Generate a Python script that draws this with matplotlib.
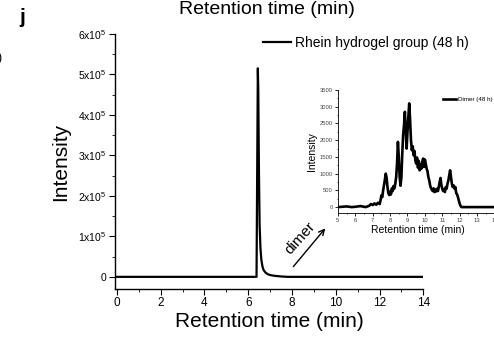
import numpy as np
import matplotlib
matplotlib.use("Agg")
import matplotlib.pyplot as plt
from matplotlib.ticker import MultipleLocator, FixedLocator

plt.rcParams["font.family"] = ["Liberation Sans", "DejaVu Sans"]
plt.rcParams["mathtext.fontset"] = "custom"
plt.rcParams["mathtext.rm"] = "Liberation Sans"

# ── data ──────────────────────────────────────────────────────────────────────
main_t = [0.0, 6.38, 6.41, 6.44, 6.46, 6.49, 6.52, 6.56, 6.60, 6.65, 6.70,
          6.80, 6.90, 7.00, 7.20, 7.50, 7.80, 14.0]
main_i = [0, 0, 2.6e5, 5.15e5, 4.6e5, 2.6e5, 1.3e5, 7.0e4, 4.2e4, 2.6e4, 1.7e4,
          1.0e4, 6.5e3, 4.5e3, 2.5e3, 1.0e3, 0, 0]

dimer_t = [5.0, 5.5, 5.8, 6.0, 6.3, 6.6, 6.8, 6.9, 7.0, 7.1, 7.2, 7.3, 7.4, 7.45,
           7.5, 7.55, 7.6, 7.65, 7.7, 7.75, 7.8, 7.85, 7.9, 7.95, 8.0, 8.05, 8.1,
           8.15, 8.2, 8.25, 8.3, 8.35, 8.4, 8.45, 8.5, 8.55, 8.6, 8.65, 8.7, 8.75,
           8.8, 8.85, 8.9, 8.95, 9.0, 9.05, 9.1, 9.15, 9.2, 9.25, 9.3, 9.35, 9.4,
           9.45, 9.5, 9.55, 9.6, 9.65, 9.7, 9.75, 9.8, 9.85, 9.9, 9.95, 10.0,
           10.05, 10.1, 10.15, 10.2, 10.25, 10.3, 10.35, 10.4, 10.45, 10.5, 10.55,
           10.6, 10.65, 10.7, 10.75, 10.8, 10.85, 10.9, 10.95, 11.0, 11.05, 11.1,
           11.15, 11.2, 11.25, 11.3, 11.35, 11.4, 11.45, 11.5, 11.55, 11.6, 11.65,
           11.7, 11.75, 11.8, 11.85, 11.9, 11.95, 12.0, 12.05, 12.1, 12.5, 13.0,
           14.0, 15.0]
dimer_i = [0, 20, 0, 10, 30, 0, 40, 90, 60, 110, 70, 130, 90, 200,
           350, 300, 500, 650, 820, 1000, 880, 600, 420, 360, 460, 380, 560,
           480, 630, 560, 700, 900, 1300, 1950, 1500, 900, 640, 900, 1600, 2150,
           2450, 2850, 2300, 1750, 2250, 2700, 3100, 2600, 2000, 1700, 1820, 1550, 1680,
           1400, 1300, 1480, 1180, 1380, 1100, 1280, 1150, 1350, 1450, 1200, 1420,
           1300, 1150, 1070, 900, 800, 650, 570, 520, 480, 560, 450,
           520, 470, 550, 480, 600, 750, 870, 650, 550, 480, 520,
           450, 600, 550, 700, 800, 950, 1100, 900, 700, 600, 650,
           550, 600, 420, 380, 300, 200, 100, 40, 0, 0, 0,
           0, 0]

main_yticks = [0, 1e5, 2e5, 3e5, 4e5, 5e5, 6e5]
main_ylabels = ["0"] + [r"$\mathregular{%dx10^5}$" % k for k in range(1, 7)]
inset_yticks = [0, 500, 1000, 1500, 2000, 2500, 3000, 3500]

# ── figure ────────────────────────────────────────────────────────────────────
fig = plt.figure(figsize=(4.94, 3.41), dpi=100)
ax = fig.add_axes([0.233, 0.1525, 0.624, 0.748])
ax.plot(main_t, main_i, color="black", lw=1.6, label="Rhein hydrogel group (48 h)")
ax.set_xlim(-0.08, 14)
ax.set_ylim(-0.3e5, 6e5)
for s in ["top", "right"]:
    ax.spines[s].set_visible(False)
for s in ["left", "bottom"]:
    ax.spines[s].set_linewidth(1.0)
ax.xaxis.set_major_locator(MultipleLocator(2))
ax.xaxis.set_minor_locator(MultipleLocator(1))
ax.yaxis.set_major_locator(FixedLocator(main_yticks))
ax.yaxis.set_minor_locator(MultipleLocator(0.5e5))
ax.set_yticklabels(main_ylabels)
ax.tick_params(axis="x", which="major", direction="out", length=4, labelsize=8.5, pad=2)
ax.tick_params(axis="y", which="major", direction="out", length=4, labelsize=7.5, pad=2)
ax.tick_params(which="minor", direction="out", length=2)
ax.set_xlabel("Retention time (min)", fontsize=15, labelpad=2)
ax.set_ylabel("Intensity", fontsize=15, labelpad=6)
ax.legend(loc="upper right", bbox_to_anchor=(1.188, 1.04), frameon=False,
          fontsize=10, handlelength=2.0, handletextpad=0.3)

ax.annotate("", xy=(9.6, 1.25e5), xytext=(7.98, 0.2e5),
            arrowprops=dict(arrowstyle="->", color="black", lw=1.0))
ax.text(8.35, 0.95e5, "dimer", rotation=48, fontsize=11,
        ha="center", va="center")

# inset
ins = fig.add_axes([0.684, 0.376, 0.324, 0.36])
ins.plot(dimer_t, dimer_i, color="black", lw=1.9, label="Dimer (48 h)")
ins.set_xlim(5, 14.2)
ins.set_ylim(-170, 3500)
for s in ["top", "right"]:
    ins.spines[s].set_visible(False)
ins.spines["left"].set_linewidth(0.6)
ins.spines["bottom"].set_linewidth(0.6)
ins.xaxis.set_major_locator(MultipleLocator(1))
ins.xaxis.set_minor_locator(MultipleLocator(0.5))
ins.yaxis.set_major_locator(FixedLocator(inset_yticks))
ins.yaxis.set_minor_locator(MultipleLocator(250))
ins.tick_params(which="major", direction="out", length=2, width=0.6, labelsize=4.2,
                pad=1.5, colors="black", labelcolor="#444444")
ins.tick_params(which="minor", direction="out", length=1, width=0.5)
ins.set_xlabel("Retention time (min)", fontsize=7.5, labelpad=1.5)
ins.set_ylabel("Intensity", fontsize=7.5, labelpad=2)
ins.legend(loc="upper right", bbox_to_anchor=(1.0, 0.99), frameon=False,
           fontsize=4.5, handlelength=2.0, handletextpad=0.3)

fig.text(0.54, 0.972, "Retention time (min)", fontsize=14, ha="center", va="center")
fig.text(0.045, 0.95, "j", fontsize=15, fontweight="bold", ha="center", va="center")
fig.text(-0.004, 0.83, ")", fontsize=9, ha="left", va="center")

fig.savefig("out.png", dpi=100)
